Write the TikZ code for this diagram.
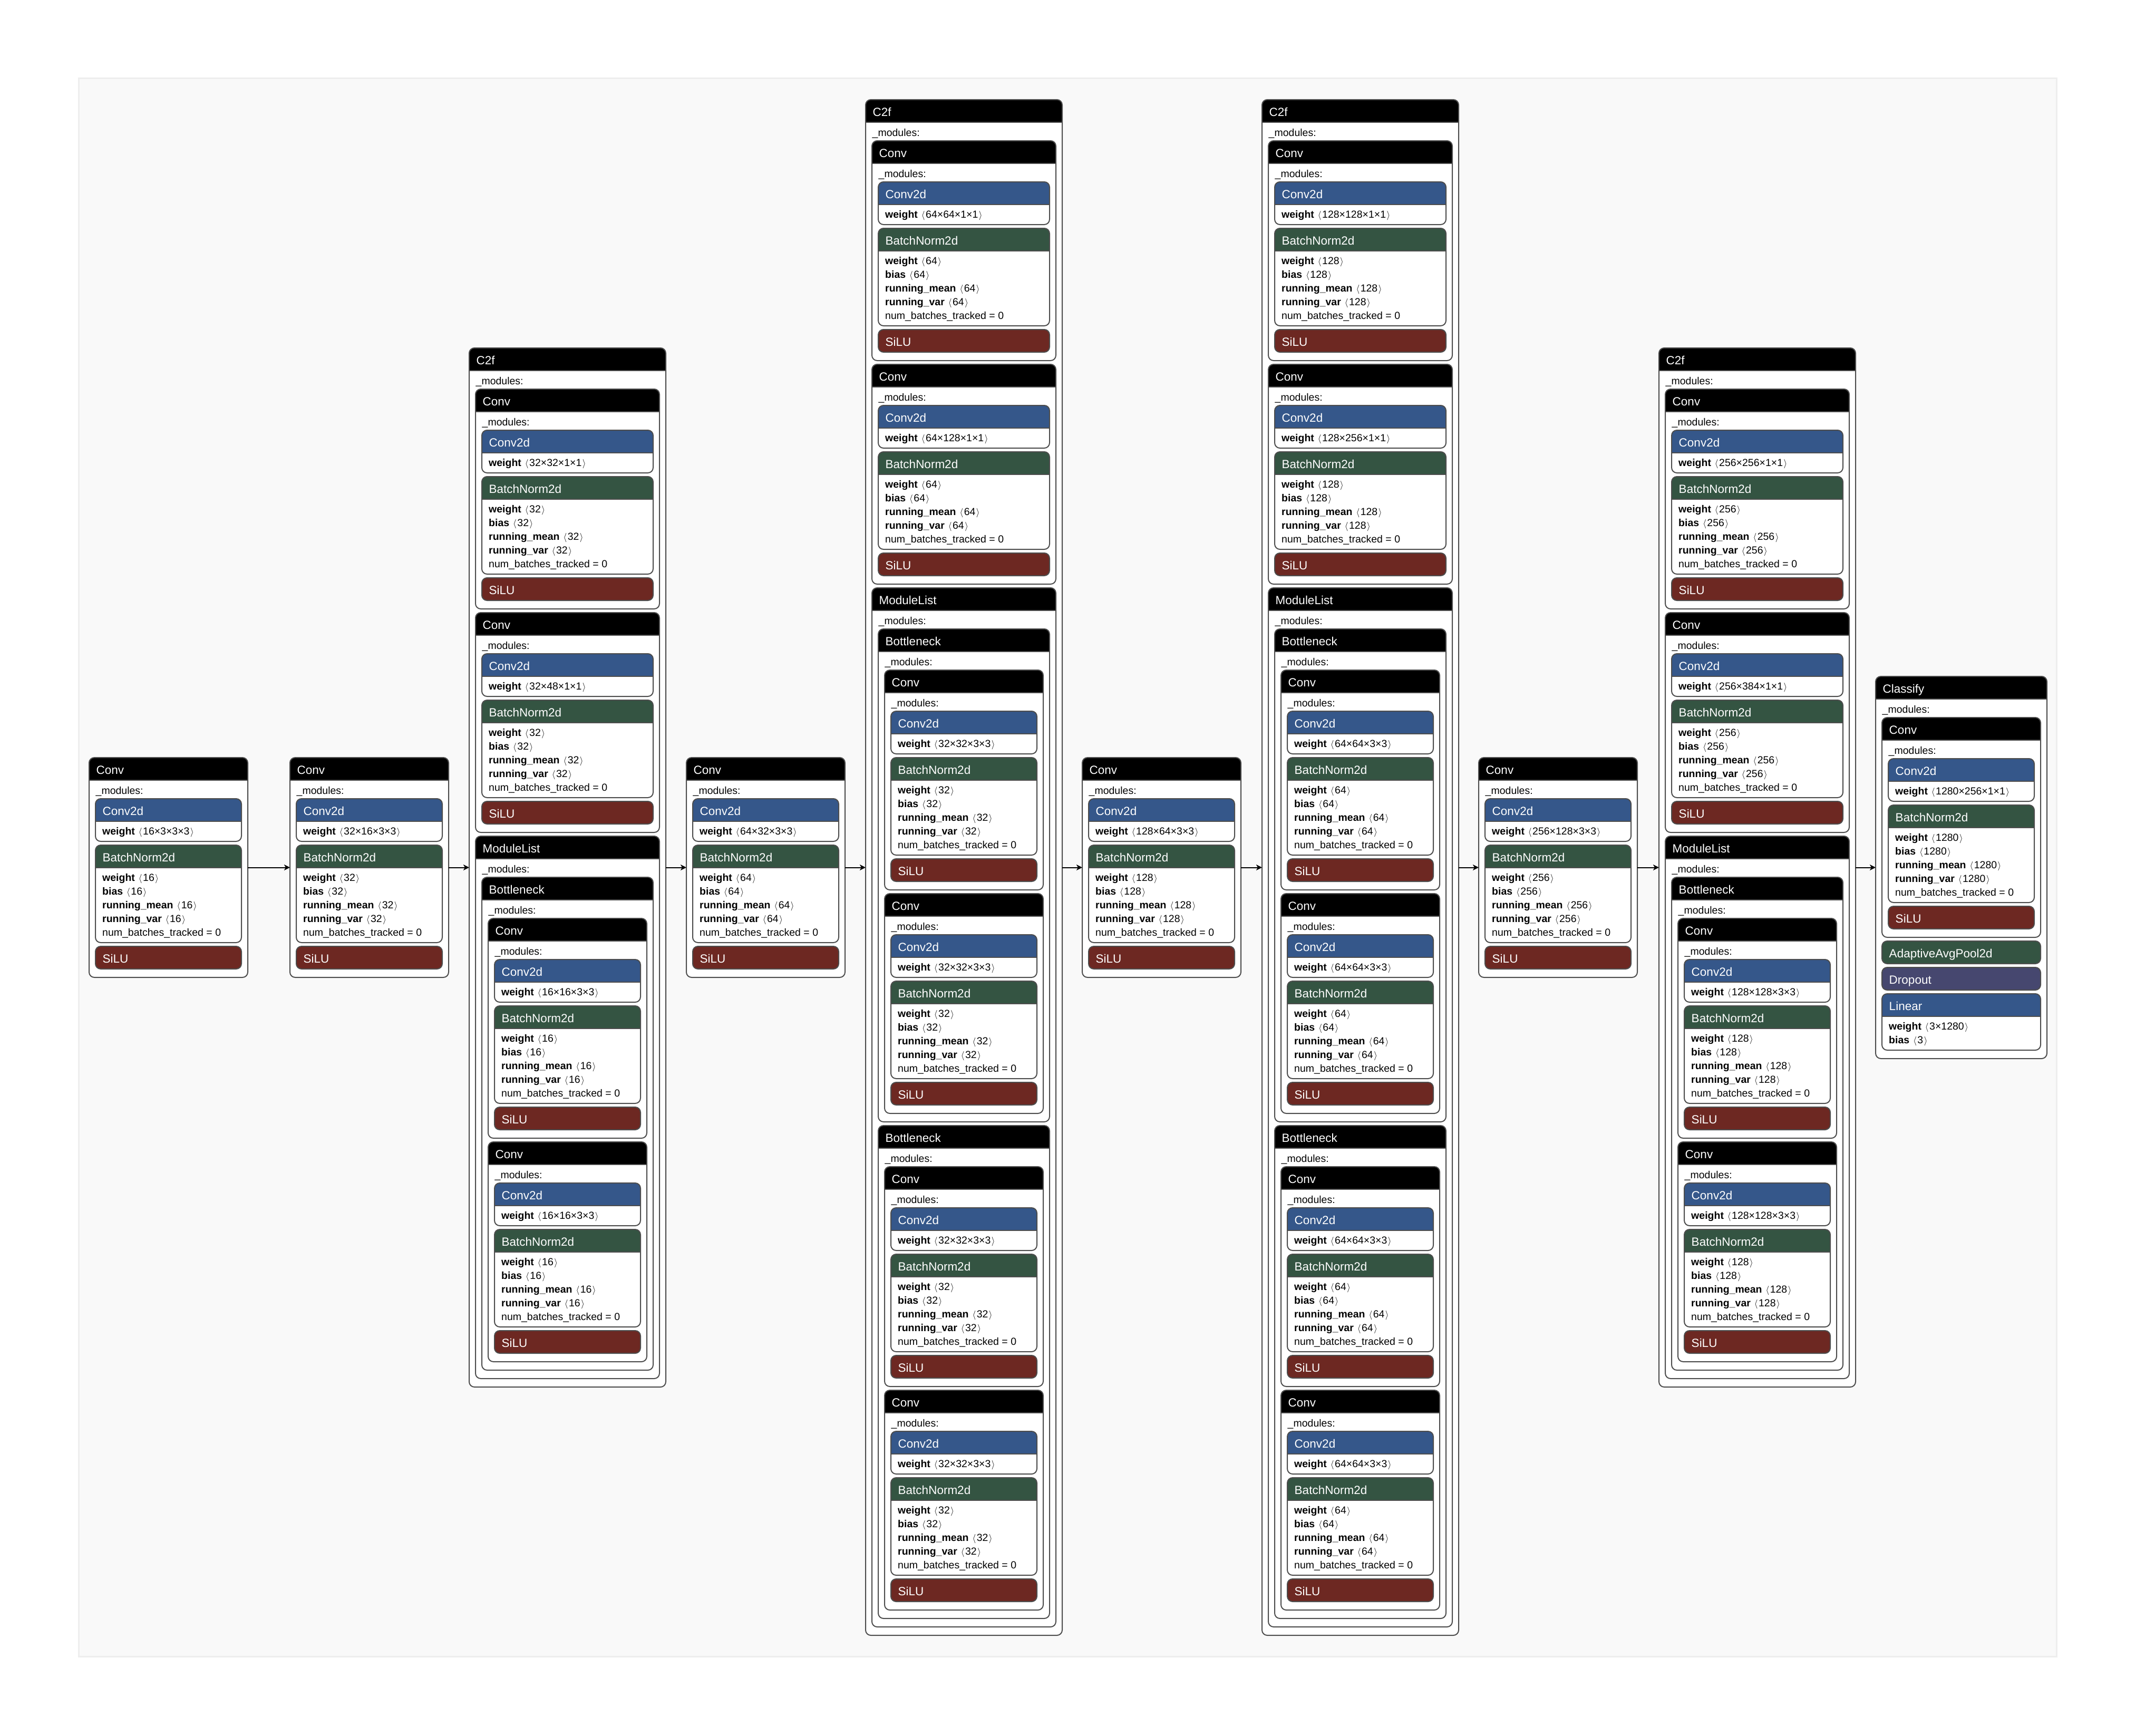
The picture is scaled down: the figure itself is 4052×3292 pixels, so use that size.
\documentclass[tikz,border=0pt]{standalone}
\usepackage{fontspec}
\setmainfont{Liberation Sans}
\usetikzlibrary{arrows.meta}
\definecolor{cblue}{HTML}{35578A}
\definecolor{cgreen}{HTML}{345442}
\definecolor{cred}{HTML}{6D2822}
\definecolor{cpurp}{HTML}{46476F}
\definecolor{cline}{HTML}{4D4D4D}
\definecolor{bgfill}{HTML}{F9F9F9}
\definecolor{bgline}{HTML}{EEEEEE}
\newcounter{tn}
\tikzset{
  hdrfont/.style={font=\fontsize{22.5}{27}\selectfont, text=white, inner sep=0pt, anchor=base west},
  bodyfont/.style={font=\fontsize{19.5}{23}\selectfont, text=black, inner sep=0pt, anchor=base west},
  outl/.style={draw=cline, line width=2pt, rounded corners=10pt},
  conn/.style={draw=black, line width=2pt, -{Stealth[length=11pt,width=11pt,inset=3pt]}},
  anchorbox/.style={inner sep=0pt, outer sep=0pt, draw=none, anchor=north west},
}
\newcommand\Ang[1]{\hspace{7pt}{\fontsize{17}{17}\selectfont\raisebox{0.5pt}{$\langle$}}\hspace{1.5pt}#1\hspace{1.5pt}{\fontsize{17}{17}\selectfont\raisebox{0.5pt}{$\rangle$}}}
\newcommand\Txt[4]{\stepcounter{tn}\edef\tname{t\arabic{tn}}\node[#3] (\tname) at (#1,#2) {#4};}
% x y w h colour title
\newcommand\HBox[6]{%
  \begin{scope}
    \clip[rounded corners=10pt] (#1,#2) rectangle ++(#3,#4);
    \fill[white] (#1,#2) rectangle ++(#3,#4);
    \fill[#5] (#1,#2) rectangle ++(#3,43);
    \draw[cline, line width=2pt] (#1,#2+43) -- ++(#3,0);
  \end{scope}
  \draw[outl] (#1,#2) rectangle ++(#3,#4);
  \Txt{#1+13.5}{#2+31}{hdrfont}{#6}}
% x y w colour title
\newcommand\Bar[5]{%
  \draw[outl, fill=#4] (#1,#2) rectangle ++(#3,43);
  \Txt{#1+13.5}{#2+31}{hdrfont}{#5}}
\newcommand\LConv[4]{%
  \HBox{#1}{#2}{#3}{81}{cblue}{Conv2d}
  \Txt{#1+13}{#2+68.5}{bodyfont}{\textbf{weight}\Ang{#4}}}
\newcommand\LBN[4]{%
  \HBox{#1}{#2}{#3}{185}{cgreen}{BatchNorm2d}
  \Txt{#1+13}{#2+68.5}{bodyfont}{\textbf{weight}\Ang{#4}}
  \Txt{#1+13}{#2+94.5}{bodyfont}{\textbf{bias}\Ang{#4}}
  \Txt{#1+13}{#2+120.5}{bodyfont}{\textbf{running\_mean}\Ang{#4}}
  \Txt{#1+13}{#2+146.5}{bodyfont}{\textbf{running\_var}\Ang{#4}}
  \Txt{#1+13}{#2+172.5}{bodyfont}{num\_batches\_tracked = 0}}
\newcommand\Cont[5]{%
  \HBox{#1}{#2}{#3}{#4}{black}{#5}
  \Txt{#1+12.5}{#2+69}{bodyfont}{\_modules:}}
\newcommand\MConv[5]{%
  \Cont{#1}{#2}{#3}{417}{Conv}
  \LConv{#1+12}{#2+78}{#3-24}{#4}
  \LBN{#1+12}{#2+166}{#3-24}{#5}
  \Bar{#1+12}{#2+358}{#3-24}{cred}{SiLU}}
\newcommand\MBot[5]{%
  \Cont{#1}{#2}{#3}{935}{Bottleneck}
  \MConv{#1+12}{#2+78}{#3-24}{#4}{#5}
  \MConv{#1+12}{#2+502}{#3-24}{#4}{#5}}
% x y dims1 n dims2 bdims bn
\newcommand\CtfA[7]{%
  \Cont{#1}{#2}{373}{1971}{C2f}
  \MConv{#1+12}{#2+78}{349}{#3}{#4}
  \MConv{#1+12}{#2+502}{349}{#5}{#4}
  \Cont{#1+12}{#2+926}{349}{1029}{ModuleList}
  \MBot{#1+24}{#2+1004}{325}{#6}{#7}}
\newcommand\CtfB[7]{%
  \Cont{#1}{#2}{373}{2913}{C2f}
  \MConv{#1+12}{#2+78}{349}{#3}{#4}
  \MConv{#1+12}{#2+502}{349}{#5}{#4}
  \Cont{#1+12}{#2+926}{349}{1971}{ModuleList}
  \MBot{#1+24}{#2+1004}{325}{#6}{#7}
  \MBot{#1+24}{#2+1946}{325}{#6}{#7}}
\begin{document}
\begin{tikzpicture}[x=1pt,y=-1pt]
\useasboundingbox (0,0) rectangle (4052,3292);
\fill[white] (0,0) rectangle (4052,3292);
\draw[bgline, fill=bgfill, line width=3pt] (149,148) rectangle (3901,3142);

% anchor nodes of the top-level modules
\node[anchorbox, minimum width=301pt, minimum height=417pt] (m1) at (169,1437) {};
\node[anchorbox, minimum width=301pt, minimum height=417pt] (m2) at (550,1437) {};
\node[anchorbox, minimum width=373pt, minimum height=1971pt] (m3) at (890,660) {};
\node[anchorbox, minimum width=301pt, minimum height=417pt] (m4) at (1302,1437) {};
\node[anchorbox, minimum width=373pt, minimum height=2913pt] (m5) at (1642,189) {};
\node[anchorbox, minimum width=301pt, minimum height=417pt] (m6) at (2053,1437) {};
\node[anchorbox, minimum width=373pt, minimum height=2913pt] (m7) at (2394,189) {};
\node[anchorbox, minimum width=301pt, minimum height=417pt] (m8) at (2805,1437) {};
\node[anchorbox, minimum width=373pt, minimum height=1971pt] (m9) at (3147,660) {};
\node[anchorbox, minimum width=325pt, minimum height=725pt] (m10) at (3558,1283) {};

\MConv{169}{1437}{301}{16×3×3×3}{16}
\MConv{550}{1437}{301}{32×16×3×3}{32}
\CtfA{890}{660}{32×32×1×1}{32}{32×48×1×1}{16×16×3×3}{16}
\MConv{1302}{1437}{301}{64×32×3×3}{64}
\CtfB{1642}{189}{64×64×1×1}{64}{64×128×1×1}{32×32×3×3}{32}
\MConv{2053}{1437}{301}{128×64×3×3}{128}
\CtfB{2394}{189}{128×128×1×1}{128}{128×256×1×1}{64×64×3×3}{64}
\MConv{2805}{1437}{301}{256×128×3×3}{256}
\CtfA{3147}{660}{256×256×1×1}{256}{256×384×1×1}{128×128×3×3}{128}

% Classify
\Cont{3558}{1283}{325}{725}{Classify}
\MConv{3570}{1361}{301}{1280×256×1×1}{1280}
\Bar{3570}{1785}{301}{cgreen}{AdaptiveAvgPool2d}
\Bar{3570}{1835}{301}{cpurp}{Dropout}
\HBox{3570}{1885}{301}{107}{cblue}{Linear}
\Txt{3583}{1953.5}{bodyfont}{\textbf{weight}\Ang{3×1280}}
\Txt{3583}{1979.5}{bodyfont}{\textbf{bias}\Ang{3}}

\draw[conn] (m1.east) -- (m2.west);
\draw[conn] (m2.east) -- (m3.west);
\draw[conn] (m3.east) -- (m4.west);
\draw[conn] (m4.east) -- (m5.west);
\draw[conn] (m5.east) -- (m6.west);
\draw[conn] (m6.east) -- (m7.west);
\draw[conn] (m7.east) -- (m8.west);
\draw[conn] (m8.east) -- (m9.west);
\draw[conn] (m9.east) -- (m10.west);
\end{tikzpicture}
\end{document}
